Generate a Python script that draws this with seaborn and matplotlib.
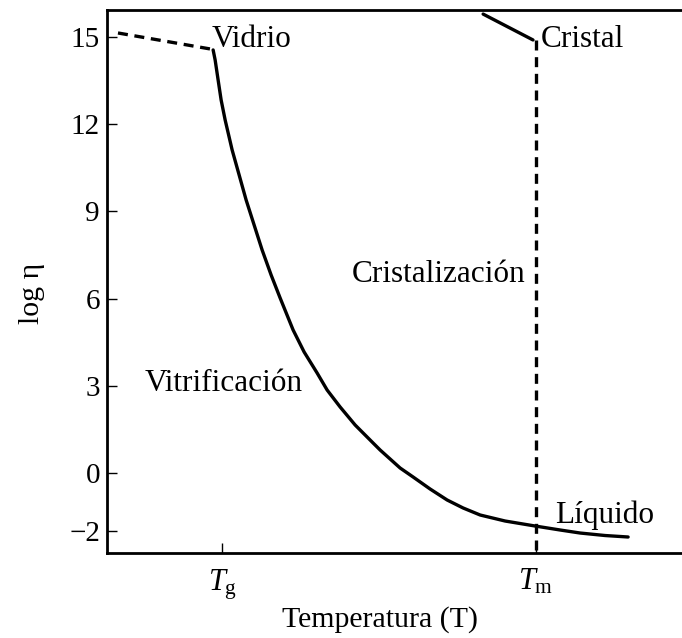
import matplotlib
matplotlib.use("Agg")
import matplotlib.pyplot as plt
import seaborn as sns

sns.set_theme(style="white")
plt.rcParams["font.family"] = ["Liberation Serif", "DejaVu Serif"]
plt.rcParams["mathtext.fontset"] = "custom"
plt.rcParams["mathtext.rm"] = "Liberation Serif"
plt.rcParams["mathtext.it"] = "Liberation Serif:italic"

# Temperature axis in reduced units: Tg = 1, Tm = 2
T_g = 1.0
T_m = 2.0

# Liquid / supercooled liquid viscosity curve (log eta)
liquid_T = [0.9713, 0.9777, 0.9872, 0.9968, 1.0096, 1.0319, 1.0542, 1.0765,
            1.1020, 1.1275, 1.1562, 1.1849, 1.2263, 1.2614, 1.3028, 1.3347,
            1.3762, 1.4240, 1.4813, 1.5037, 1.5674, 1.6089, 1.6631, 1.7173,
            1.7683, 1.8225, 1.9021, 1.9978, 2.0775, 2.1412, 2.2209, 2.2942]
liquid_logeta = [14.556, 14.212, 13.524, 12.835, 12.147, 11.115, 10.255, 9.394,
                 8.534, 7.674, 6.813, 6.022, 4.921, 4.164, 3.441, 2.856,
                 2.271, 1.652, 1.032, 0.791, 0.172, -0.138, -0.551, -0.929,
                 -1.204, -1.445, -1.652, -1.824, -1.961, -2.065, -2.151, -2.202]

# Glass branch below Tg
glass_T = [0.668, 0.962]
glass_logeta = [15.14, 14.59]

# Crystal branch
crystal_T = [1.832, 1.991]
crystal_logeta = [15.79, 14.90]

# Crystallisation drop at Tm
cryst_T = [T_m, T_m]
cryst_logeta = [14.90, -2.75]

y_ticks = [15, 12, 9, 6, 3, 0, -2]
x_ticks = [T_g, T_m]
x_ticklabels = [r"$T_{\mathrm{g}}$", r"$T_{\mathrm{m}}$"]

fig = plt.figure(figsize=(6.82, 6.38), dpi=100)
ax = fig.add_axes([0.1569, 0.1332, 0.8431, 0.8511])

lw = 2.4
dash = (0, (3, 2))
common = dict(ax=ax, color="black", lw=lw, sort=False, estimator=None)
sns.lineplot(x=liquid_T, y=liquid_logeta, solid_joinstyle="round", **common)
sns.lineplot(x=glass_T, y=glass_logeta, linestyle=dash, **common)
sns.lineplot(x=crystal_T, y=crystal_logeta, **common)
sns.lineplot(x=cryst_T, y=cryst_logeta, linestyle=dash, **common)

ax.set_xlim(0.633, 2.466)
ax.set_ylim(-2.753, 15.93)

ax.set_yticks(y_ticks)
ax.set_yticklabels(["\u22122" if v == -2 else str(v) for v in y_ticks])
ax.set_xticks(x_ticks)
ax.set_xticklabels(x_ticklabels)
ax.tick_params(axis="both", direction="in", length=7, width=1.0,
               colors="black", labelsize=21, pad=5,
               left=True, bottom=True, right=False, top=False)
ax.tick_params(axis="x", labelsize=22, pad=10)

for side in ["left", "bottom", "top"]:
    ax.spines[side].set_color("black")
    ax.spines[side].set_linewidth(2.0)
ax.spines["right"].set_visible(False)

ax.set_xlabel("Temperatura (T)", fontsize=21.5, color="black")
ax.xaxis.set_label_coords((380 - 107) / 575, -0.097)
ax.set_ylabel("log \u03b7", fontsize=21.5, color="black")
ax.yaxis.set_label_coords(-0.107, 0.479)

txt = dict(fontsize=22.5, color="black")
ax.text(0.968, 14.93, "Vidrio", ha="left", va="center", **txt)
ax.text(2.015, 14.90, "Cristal", ha="left", va="center", **txt)
ax.text(1.966, 6.83, "Cristalización", ha="right", va="center", **txt)
ax.text(1.005, 3.07, "Vitrificación", ha="center", va="center", **txt)
ax.text(2.061, -1.44, "Líquido", ha="left", va="center", **txt)

fig.savefig("out.png", dpi=100)
